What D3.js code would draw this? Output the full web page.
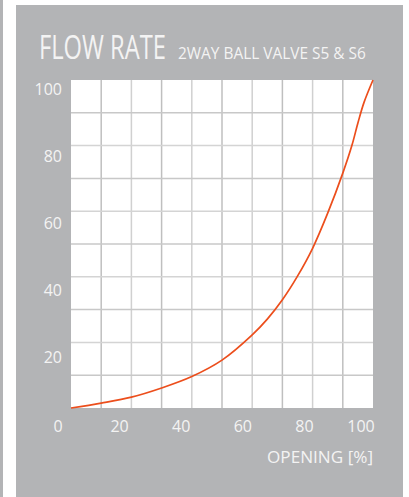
<!DOCTYPE html>
<html><head><meta charset="utf-8">
<script src="https://cdn.jsdelivr.net/npm/d3@7"></script>
<style>
html,body{margin:0;padding:0;background:#fff;}
svg{display:block;}
text{font-family:"Open Sans","Noto Sans",sans-serif;fill:#f3f3f3;}
</style></head>
<body>
<svg id="chart" width="409" height="497"></svg>
<script>
// ---- data ----
const opening = [0, 10, 20, 30, 40, 50, 60, 65, 70, 75, 80, 85, 90, 93, 95, 97, 100];
const flow    = [0, 1.5, 3.3, 6.1, 9.6, 14.6, 22.3, 27.1, 33.0, 40.2, 48.7, 59.4, 71.6, 80.0, 86.9, 93.1, 100];
const xTickLabels = [0, 20, 40, 60, 80, 100];
const yTickLabels = [20, 40, 60, 80, 100];
const gridValues = [10, 20, 30, 40, 50, 60, 70, 80, 90];
const title = "FLOW RATE";
const subtitle = "2WAY BALL VALVE S5 & S6";
const xTitle = "OPENING [%]";

// ---- layout ----
const svg = d3.select("#chart");
const plot = {l: 71, r: 373, t: 80, b: 408};

// outer decoration
svg.append("rect").attr("x", 0).attr("y", 0).attr("width", 3).attr("height", 497).attr("fill", "#b3b4b6");
svg.append("rect").attr("x", 16).attr("y", 5).attr("width", 387).attr("height", 492).attr("fill", "#b3b4b6");

// scales
const x = d3.scaleLinear().domain([0, 100]).range([plot.l, plot.r]);
const y = d3.scaleLinear().domain([0, 100]).range([plot.b, plot.t]);
// tick label placement (labels in the original sit on their own, wider scale)
const xLab = d3.scaleLinear().domain([0, 100]).range([58, 366]);
const yLab = d3.scaleLinear().domain([0, 100]).range([424, 89]);

// plot area
svg.append("rect").attr("x", plot.l).attr("y", plot.t)
  .attr("width", plot.r - plot.l).attr("height", plot.b - plot.t).attr("fill", "#ffffff");

// grid
svg.append("g").selectAll("line").data(gridValues).join("line")
  .attr("x1", d => x(d)).attr("x2", d => x(d))
  .attr("y1", plot.t).attr("y2", plot.b)
  .attr("stroke", (d, i) => i % 2 ? "#d0d0d0" : "#bfbfbf").attr("stroke-width", 1.5);
svg.append("g").selectAll("line").data(gridValues).join("line")
  .attr("y1", d => y(d)).attr("y2", d => y(d))
  .attr("x1", plot.l).attr("x2", plot.r)
  .attr("stroke", (d, i) => i % 2 ? "#d4d4d4" : "#c8c8c8").attr("stroke-width", 1.5);

// curve
const pts = opening.map((o, i) => [o, flow[i]]);
svg.append("path").datum(pts)
  .attr("d", d3.line().x(d => x(d[0])).y(d => y(d[1])).curve(d3.curveCatmullRom.alpha(0.5)))
  .attr("fill", "none").attr("stroke", "#ec4e1c").attr("stroke-width", 1.7);

// y tick labels
svg.append("g").selectAll("text").data(yTickLabels).join("text")
  .attr("x", 62).attr("y", d => yLab(d)).attr("dy", "0.36em")
  .attr("text-anchor", "end").attr("font-size", 16).text(d => d);

// x tick labels
svg.append("g").selectAll("text").data(xTickLabels).join("text")
  .attr("x", d => Math.min(xLab(d), plot.r - 12)).attr("y", 426).attr("dy", "0.36em")
  .attr("text-anchor", "middle").attr("font-size", 16).text(d => d);

// axis title
svg.append("text").attr("x", plot.r).attr("y", 463)
  .attr("text-anchor", "end").attr("font-size", 16.5)
  .attr("textLength", 106).attr("lengthAdjust", "spacingAndGlyphs")
  .text(xTitle);

// titles (condensed via horizontal scaling)
const t1 = svg.append("text").attr("font-size", 32).text(title);
const w1 = t1.node().getComputedTextLength();
t1.attr("transform", `translate(39,59) scale(${127 / w1},1)`);
const t2 = svg.append("text").attr("font-size", 17).attr("font-weight", 500).text(subtitle);
const w2 = t2.node().getComputedTextLength();
t2.attr("transform", `translate(178,59) scale(${188 / w2},1)`);
</script>
</body></html>
